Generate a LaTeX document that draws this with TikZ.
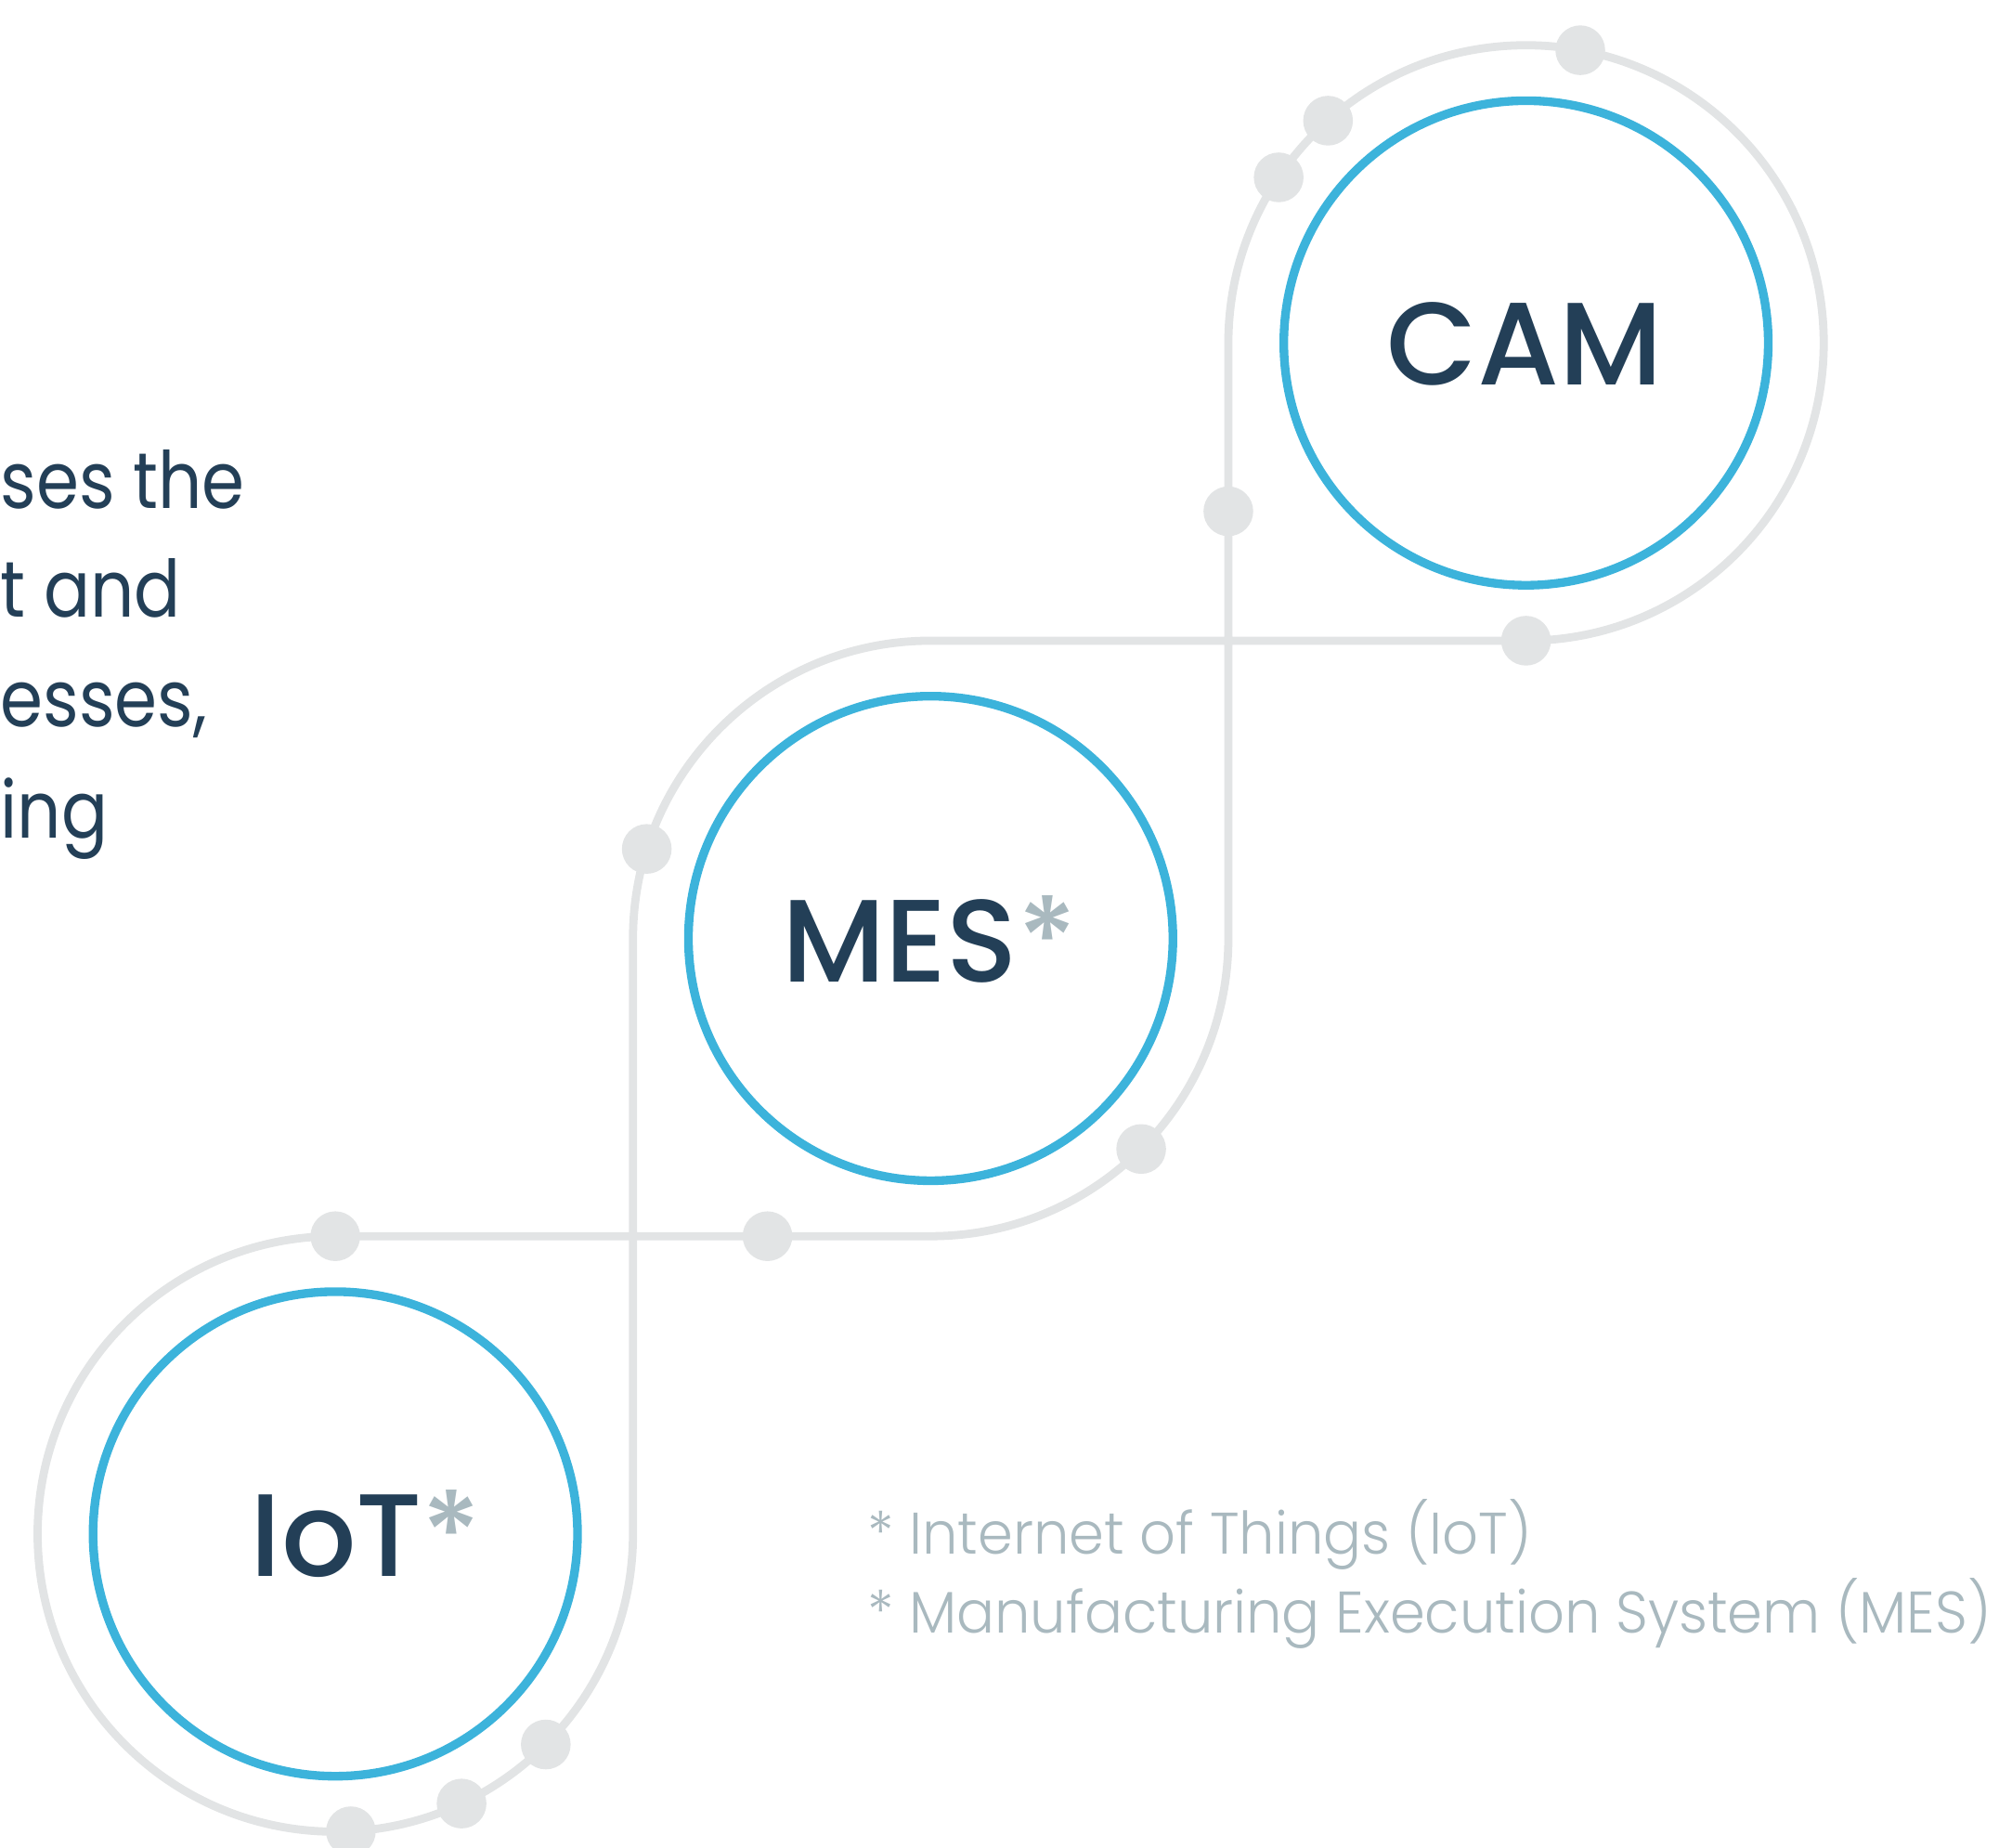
\documentclass[tikz,border=0pt]{standalone}
\usepackage{fontspec}
\setmainfont{Poppins}
\newfontfamily\labfont{Poppins Medium}
\newfontfamily\notefont{Poppins Light}[FakeStretch=0.962]
\newfontfamily\parafont{Poppins}[FakeStretch=0.87]
\usetikzlibrary{calc}
\definecolor{navy}{HTML}{233F57}
\definecolor{ringblue}{HTML}{3CB3DB}
\definecolor{trackgrey}{HTML}{E2E4E5}
\definecolor{notegrey}{HTML}{A9B9BF}
\tikzset{
  ring/.style={circle, draw=ringblue, line width=3.4pt, minimum size=190pt, inner sep=0pt},
  track/.style={draw=trackgrey, line width=3.2pt},
  dot/.style={circle, fill=trackgrey, inner sep=0pt, minimum size=19.5pt},
  lab/.style={inner sep=0pt, text=navy, font=\labfont\fontsize{46}{50}\selectfont},
  para/.style={inner sep=0pt, text=navy, font=\parafont\fontsize{31}{40}\selectfont},
  note/.style={inner sep=0pt, text=notegrey, font=\notefont\fontsize{23}{28}\selectfont},
}
\begin{document}
\begin{tikzpicture}[x=0.5pt,y=0.5pt]
\useasboundingbox (0,0) rectangle (1568,1449);
\coordinate (camC) at (1197,1180);
\coordinate (mesC) at (730,713);
\coordinate (iotC) at (263,246);
% track loop
\draw[track] ($(camC)+(-233.5,0)$) arc[start angle=180,end angle=-90,radius=116.75pt]
  -- ($(mesC)+(0,233.5)$) arc[start angle=90,end angle=180,radius=116.75pt]
  -- ($(iotC)+(233.5,0)$) arc[start angle=0,end angle=-270,radius=116.75pt]
  -- ($(mesC)+(0,-233.5)$) arc[start angle=-90,end angle=0,radius=116.75pt]
  -- cycle;
% rings
\node[ring] (cam) at (camC) {};
\node[ring] (mes) at (mesC) {};
\node[ring] (iot) at (iotC) {};
% dots
\node[dot] (d1) at ($(camC)+(79.5:233.5)$) {};
\node[dot] (d2) at ($(camC)+(131.7:233.5)$) {};
\node[dot] (d3) at ($(camC)+(146.2:233.5)$) {};
\node[dot] (d4) at ($(camC)+(270:233.5)$) {};
\node[dot] (d5) at ($(camC)+(-233.5,-132)$) {};
\node[dot] (d6) at ($(mesC)+(162.5:233.5)$) {};
\node[dot] (d7) at ($(mesC)+(-45:233.5)$) {};
\node[dot] (d8) at ($(iotC)+(90:233.5)$) {};
\node[dot] (d9) at ($(mesC)+(-128,-233.5)$) {};
\node[dot] (d10) at ($(iotC)+(-45:233.5)$) {};
\node[dot] (d11) at ($(iotC)+(-64.9:233.5)$) {};
\node[dot] (d12) at ($(iotC)+(-87:233.5)$) {};
% labels
\node[lab, anchor=base] (camT) at (1196,1147) {CAM};
\node[lab, anchor=base] (mesT) at (729,679) {MES\textcolor{notegrey}{*}};
\node[lab, anchor=base west] (iotT) at (196,213) {IoT\textcolor{notegrey}{*}};
% paragraph fragment
\node[para, anchor=base west] (p1) at (0,1050) {ses the};
\node[para, anchor=base west] (p2) at (0,965) {t and};
\node[para, anchor=base west] (p3) at (0,879) {esses,};
\node[para, anchor=base west] (p4) at (0,792) {ing};
% footnotes
\node[note, anchor=base west] (n1) at (680,230) {* Internet of Things (IoT)};
\node[note, anchor=base west] (n2) at (680,168) {* Manufacturing Execution System (MES)};
\end{tikzpicture}
\end{document}
